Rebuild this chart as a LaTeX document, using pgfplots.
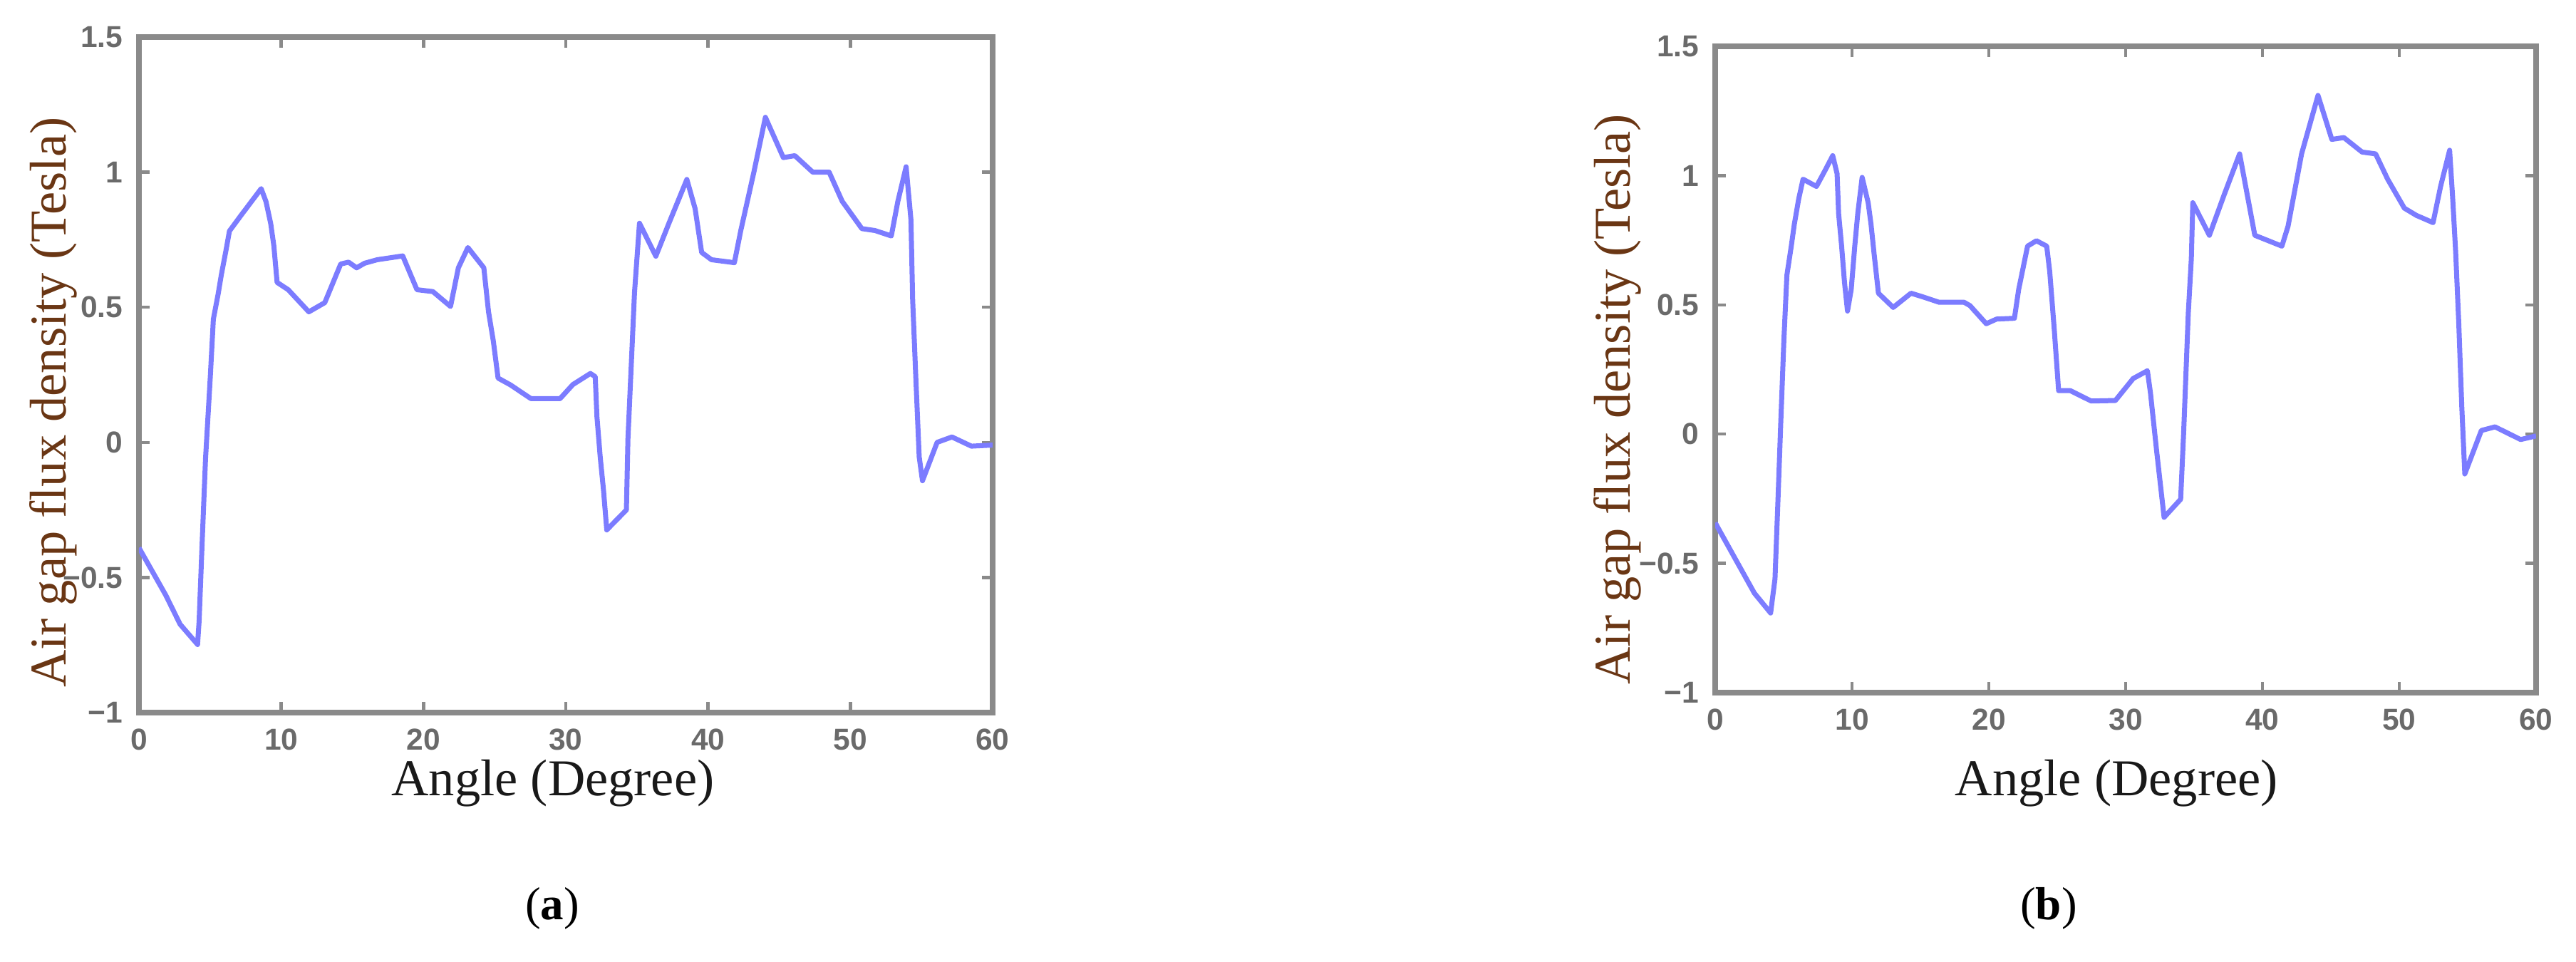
\documentclass[border=0pt]{standalone}
\usepackage{fontspec}
\usepackage{pgfplots}
\pgfplotsset{compat=1.18}
\setmainfont{Liberation Serif}
\newfontfamily\tickfont{Liberation Sans}
\definecolor{fluxblue}{HTML}{7C7CFF}
\definecolor{axisgray}{HTML}{8A8A8A}
\definecolor{ticktext}{HTML}{6A6A6A}
\definecolor{ylabbrown}{HTML}{6A3614}

\pgfplotsset{
  matlabstyle/.style={
    scale only axis,
    anchor=south west,
    xmin=0, xmax=60, ymin=-1, ymax=1.5,
    xtick={0,10,...,60},
    ytick={-1,-0.5,0,0.5,1,1.5},
    yticklabels={−1,−0.5,0,0.5,1,1.5},
    axis line style={axisgray, line width=1.6pt},
    tick align=inside,
    major tick length=3pt,
    tick style={axisgray, line width=0.9pt},
    tick label style={font=\tickfont\bfseries\fontsize{8.5}{10}\selectfont, text=ticktext},
    /pgf/number format/assume math mode=true,
    xticklabel style={yshift=-1pt},
    yticklabel style={xshift=-1pt},
    xlabel={Angle (Degree)},
    ylabel={Air gap flux density (Tesla)},
    label style={font=\fontsize{14.5}{16}\selectfont},
    xlabel style={text=black!90},
    ylabel style={text=ylabbrown},
  },
  fluxline/.style={fluxblue, line width=1.4pt, line join=round, mark=none},
}

\begin{document}
\begin{tikzpicture}[x=1pt,y=1pt]
\useasboundingbox (0,0) rectangle (723,270);

% (a)
\begin{axis}[matlabstyle,
  at={(39pt,70pt)}, width=239.6pt, height=189.6pt,
  xlabel style={at={(axis description cs:0.485,-0.105)}, anchor=center},
  ylabel style={at={(axis description cs:-0.10,0.459)}, anchor=center},
]
\addplot[fluxline] coordinates {
(0,-0.39) (1.88,-0.565) (2.89,-0.673) (4.12,-0.748) (4.23,-0.66) (4.45,-0.36)
(4.68,-0.06) (5.01,0.238) (5.23,0.456) (5.57,0.55) (5.79,0.62) (6.13,0.714)
(6.36,0.782) (7.13,0.837) (8.59,0.939) (8.93,0.891) (9.26,0.81) (9.48,0.728)
(9.71,0.592) (10.49,0.565) (11.94,0.483) (13.06,0.517) (14.18,0.66) (14.73,0.667)
(15.3,0.646) (15.86,0.663) (16.75,0.676) (18.54,0.69) (19.54,0.565) (20.66,0.558)
(21.9,0.503) (22.45,0.646) (23.12,0.721) (24.24,0.646) (24.57,0.483) (24.91,0.374)
(25.24,0.238) (26.1,0.213) (27.55,0.162) (29.6,0.162) (30.5,0.214) (31.73,0.255)
(32.07,0.243) (32.19,0.095) (32.42,-0.054) (32.65,-0.176) (32.88,-0.324)
(34.26,-0.25) (34.37,0.014) (34.6,0.284) (34.83,0.554) (35.18,0.811) (36.33,0.689)
(37.25,0.811) (38.51,0.973) (39.09,0.865) (39.55,0.703) (40.24,0.676) (41.85,0.665)
(42.3,0.784) (43.22,1.0) (44.03,1.203) (45.29,1.054) (46.1,1.061) (47.36,1.0)
(48.51,1.0) (49.43,0.892) (50.81,0.791) (51.73,0.784) (52.88,0.764) (53.34,0.892)
(53.92,1.02) (54.26,0.824) (54.38,0.527) (54.61,0.23) (54.84,-0.054) (55.07,-0.142)
(56.1,0.0) (57.14,0.02) (58.51,-0.014) (60,-0.01)
};
\end{axis}

% (b)
\begin{axis}[matlabstyle,
  at={(481.4pt,75.6pt)}, width=230.4pt, height=181.4pt,
  xlabel style={at={(axis description cs:0.489,-0.14)}, anchor=center},
  ylabel style={at={(axis description cs:-0.119,0.454)}, anchor=center},
]
\addplot[fluxline] coordinates {
(0,-0.343) (2.86,-0.615) (4.05,-0.692) (4.37,-0.56) (4.59,-0.252) (4.8,0.056)
(5.02,0.364) (5.24,0.615) (5.56,0.727) (5.78,0.811) (6.1,0.909) (6.42,0.986)
(7.4,0.958) (8.04,1.021) (8.59,1.077) (8.91,1.007) (9.02,0.853) (9.24,0.727)
(9.45,0.587) (9.67,0.476) (9.94,0.559) (10.2,0.727) (10.42,0.853) (10.74,0.993)
(11.18,0.895) (11.39,0.811) (11.61,0.699) (11.93,0.545) (13.01,0.49) (14.31,0.545)
(15.17,0.531) (16.36,0.51) (18.19,0.51) (18.62,0.497) (19.81,0.427) (20.57,0.445)
(21.87,0.448) (22.18,0.559) (22.83,0.727) (23.48,0.748) (24.23,0.727) (24.45,0.629)
(24.78,0.406) (25.1,0.168) (25.96,0.168) (27.48,0.128) (29.25,0.13) (30.55,0.215)
(31.59,0.245) (31.81,0.161) (32.26,-0.063) (32.81,-0.322) (34.02,-0.252)
(34.24,0.007) (34.58,0.469) (34.8,0.678) (34.91,0.895) (36.12,0.769) (37.23,0.93)
(38.33,1.084) (39.44,0.769) (41.42,0.727) (41.87,0.804) (42.86,1.084) (44.06,1.31)
(45.07,1.14) (45.95,1.147) (47.28,1.091) (48.27,1.084) (49.15,0.986) (50.37,0.874)
(51.25,0.846) (52.47,0.818) (53.02,0.958) (53.68,1.098) (53.9,0.916) (54.12,0.706)
(54.35,0.427) (54.57,0.105) (54.79,-0.154) (56.0,0.014) (57.0,0.028) (58.87,-0.021)
(60,-0.007)
};
\end{axis}

\node[font=\fontsize{13}{15}\selectfont] at (155,15) {(\textbf{a})};
\node[font=\fontsize{13}{15}\selectfont] at (575,15) {(\textbf{b})};
\end{tikzpicture}
\end{document}
